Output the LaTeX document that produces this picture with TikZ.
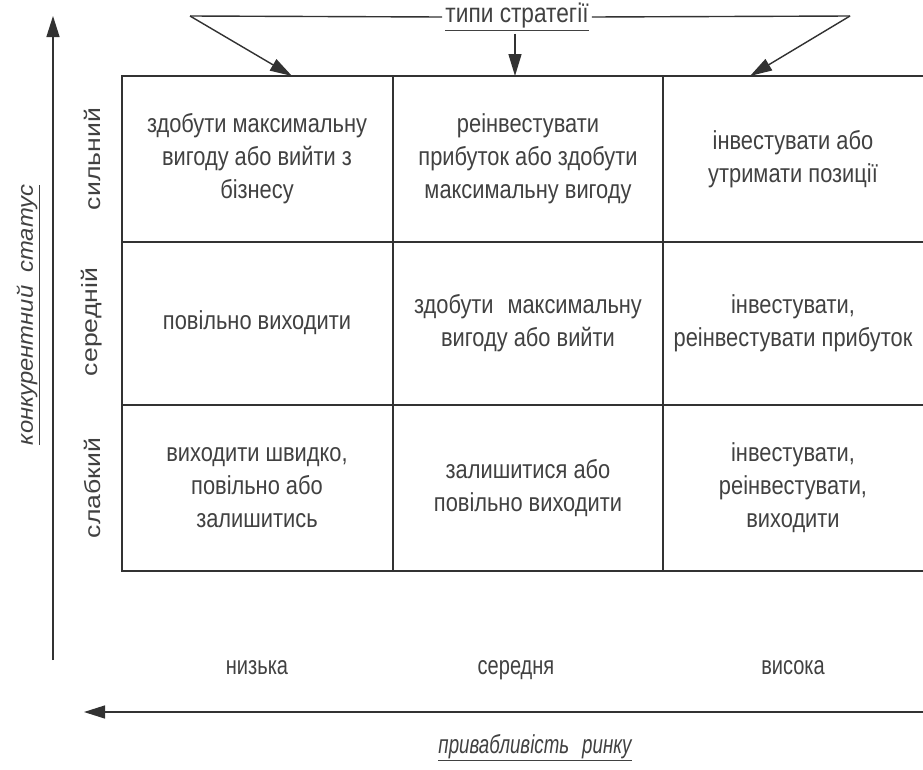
\documentclass[tikz,border=0pt]{standalone}
\usepackage{fontspec}
\setmainfont[FakeStretch=0.84]{Liberation Sans}
\newfontfamily\rowfont[FakeStretch=1.21]{Liberation Sans}
\newfontfamily\vaxfont[FakeStretch=1.08]{Liberation Sans}
\newfontfamily\haxfont[FakeStretch=0.72]{Liberation Sans}
\newfontfamily\colfont[FakeStretch=0.77]{Liberation Sans}
\usetikzlibrary{arrows.meta}
\definecolor{ink}{RGB}{50,50,50}
\definecolor{txt}{RGB}{65,65,65}
\tikzset{
  grid/.style={draw=ink, line width=1.4pt},
  cell/.style={align=center, text=txt, font=\fontsize{26}{33}\selectfont, inner sep=0pt},
  rowlab/.style={text=txt, font=\rowfont\fontsize{22}{28}\selectfont, rotate=90, inner sep=0pt},
  collab/.style={text=txt, font=\colfont\fontsize{26}{30}\selectfont, anchor=base, inner sep=0pt},
  pointer/.style={draw=ink, line width=1.4pt, -{Triangle[length=22pt,width=13pt]}},
  axis/.style={draw=ink, line width=1.4pt, -{Triangle[length=21pt,width=13pt]}}
}
\begin{document}
\begin{tikzpicture}[x=1pt,y=-1pt]
\useasboundingbox[fill=white] (0,0) rectangle (923,769);

% matrix grid (open on the right)
\draw[grid] (923,76) -- (122,76) -- (122,571) -- (923,571);
\draw[grid] (122,242) -- (923,242);
\draw[grid] (122,405) -- (923,405);
\draw[grid] (393,76) -- (393,571);
\draw[grid] (663,76) -- (663,571);

% cell texts
\node[cell] (c11) at (257,159) {здобути максимальну\\вигоду або вийти з\\бізнесу};
\node[cell] (c12) at (528,159) {реінвестувати\\прибуток або здобути\\максимальну вигоду};
\node[cell] (c13) at (793,159) {інвестувати або\\утримати позиції};
\node[cell] (c21) at (257,323) {повільно виходити};
\node[cell] (c22) at (528,323) {здобути\hspace{0.3em} максимальну\\вигоду або вийти};
\node[cell] (c23) at (793,323) {інвестувати,\\реінвестувати прибуток};
\node[cell] (c31) at (257,488) {виходити швидко,\\повільно або\\залишитись};
\node[cell] (c32) at (528,488) {залишитися або\\повільно виходити};
\node[cell] (c33) at (793,488) {інвестувати,\\реінвестувати,\\виходити};

% row labels
\node[rowlab] (r1) at (92,159) {сильний};
\node[rowlab] (r2) at (92,322) {середній};
\node[rowlab] (r3) at (92,488) {слабкий};

% column labels
\node[collab] (k1) at (257,674) {низька};
\node[collab] (k2) at (516,674) {середня};
\node[collab] (k3) at (793,674) {висока};

% vertical axis
\coordinate (vlow) at (53,660);
\coordinate (vtop) at (53,16);
\draw[axis] (vlow) -- (vtop);
\node[text=txt, font=\vaxfont\itshape\fontsize{22}{27}\selectfont, inner sep=0pt, rotate=90] (vlab) at (28,315) {\underline{конкурентний\hspace{0.3em} статус}};

% horizontal axis
\coordinate (hright) at (923,712);
\coordinate (hleft) at (84,712);
\draw[axis] (hright) -- (hleft);
\node[text=txt, font=\haxfont\itshape\fontsize{26}{30}\selectfont, inner sep=0pt, anchor=base] (hlab) at (535,753) {\underline{привабливість\hspace{0.3em} ринку}};

% strategy types bracket
\node[text=txt, font=\fontsize{27}{32}\selectfont, inner sep=3pt] (types) at (517,17) {\underline{типи стратегії}};
\coordinate (bl) at (190,16);
\coordinate (br) at (850,16);
\coordinate (tl) at (292,76);
\coordinate (tm) at (515,76);
\coordinate (tr) at (750,76);
\draw[grid] (types.west) -- (bl);
\draw[grid] (types.east) -- (br);
\draw[pointer] (bl) -- (tl);
\draw[pointer] (br) -- (tr);
\draw[pointer] (types.south -| tm) -- (tm);
\end{tikzpicture}
\end{document}
